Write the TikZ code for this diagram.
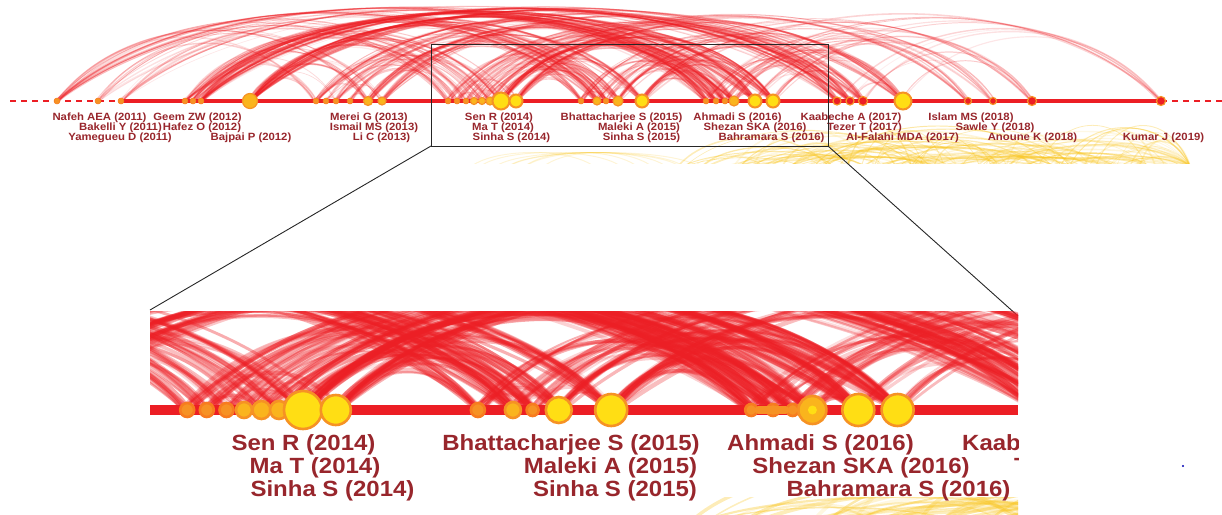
\documentclass[tikz,border=0pt]{standalone}
\usepackage{fontspec}
\setmainfont{Liberation Sans}
\definecolor{arcred}{RGB}{236,30,36}
\definecolor{lblred}{RGB}{152,38,44}
\definecolor{nodeor}{RGB}{246,146,36}
\definecolor{nodeyl}{RGB}{255,222,20}
\definecolor{arcyl}{RGB}{248,196,30}
\tikzset{
 ndS/.style={circle, inner sep=0pt, fill=nodeor, draw=nodeor!85!red, line width=0.5pt},
 ndM/.style={circle, inner sep=0pt, fill=nodeor!55!nodeyl, draw=nodeor, line width=1.2pt},
 ndR/.style={circle, inner sep=0pt, fill=arcred, draw=nodeor, line width=1.2pt},
 ndB/.style={circle, inner sep=0pt, fill=nodeyl, draw=nodeor, line width=2pt},
 lblS/.style={text=lblred, font=\fontsize{10.5}{11}\selectfont\bfseries, xscale=1.08, anchor=base, inner sep=0pt},
 lblL/.style={text=lblred, font=\fontsize{22}{24}\selectfont\bfseries, xscale=1.09, anchor=base, inner sep=0pt},
 zoomline/.style={draw=black!85, line width=0.9pt},
 timeline/.style={draw=arcred, line width=4.5pt},
 dashline/.style={draw=arcred, line width=2.4pt, dash pattern=on 6pt off 5pt},
}
\def\xs{{0,57,98,121,185,193,201,250,316,326,336,350,368,382,448,457,466,474,482,490,501,516,581,597,606,618,642,706,716,725,734,755,773,837,850,863,903,968,993,1032,1161}}
\def\tpool{{1,1,2,3,4,4,5,5,6,6,6,7,7,7,7,7,8,9,10,11,12,12,13,13,14,15,16,17,18,19,20,20,20,20,21,21,21,22,23,24,25,25,26,26,26,27,28,29,30,30,31,31,31,32,32,32,33,34,35,36,36}}
\def\spool{{8,10,12,13,14,15,16,17,18,19,20,21,22,22,23,23,24,24,25,25,26,26,27,27,28,28,29,29,30,30,31,31,31,32,32,32,33,33,34,34,35,35,36,36,37,38,39,40}}
% #1 line width factor, #2 ox, #3 sx, #4 oy, #5 sy, #6 opacity factor
\newcommand\redarcs[6]{%
 \pgfmathsetseed{4242}%
 \foreach \k in {1,...,950}{%
  \pgfmathtruncatemacro\ti{random(0,60)}%
  \pgfmathtruncatemacro\si{random(0,47)}%
  \pgfmathtruncatemacro\ia{\tpool[\ti]}%
  \pgfmathtruncatemacro\ib{\spool[\si]}%
  \pgfmathsetmacro\ja{rnd*5-2.5}%
  \pgfmathsetmacro\jb{rnd*5-2.5}%
  \pgfmathsetmacro\lw{(0.6+1.0*rnd)*#1}%
  \pgfmathsetmacro\op{(0.07+0.2*rnd)*#6}%
  \pgfmathsetmacro\xa{\xs[\ia]+\ja}%
  \pgfmathsetmacro\xb{\xs[\ib]+\jb}%
  \pgfmathsetmacro\dd{\xb-\xa}%
  \pgfmathtruncatemacro\ok{(\ib>\ia)&&(\dd<760)&&((\ib<37)||(\dd<520))}%
  \ifnum\ok=1\relax
   \pgfmathsetmacro\hy{101-133*(1-exp(-\dd/250))}%
   \pgfmathsetmacro\Xa{#2+#3*\xa}%
   \pgfmathsetmacro\Xb{#2+#3*\xb}%
   \pgfmathsetmacro\Ca{#2+#3*(\xa+0.24*\dd)}%
   \pgfmathsetmacro\Cb{#2+#3*(\xb-0.24*\dd)}%
   \pgfmathsetmacro\Yb{#4+#5*101}%
   \pgfmathsetmacro\Yc{#4+#5*\hy}%
   \draw[arcred, line width=\lw pt, opacity=\op] (\Xa,\Yb) .. controls (\Ca,\Yc) and (\Cb,\Yc) .. (\Xb,\Yb);
  \fi}}
\newcommand\yelarcs[5]{%
 \pgfmathsetseed{777}%
 \foreach \k in {1,...,110}{%
  \pgfmathsetmacro\xa{670+rnd*490}%
  \pgfmathsetmacro\dd{40+rnd*260}%
  \pgfmathsetmacro\xb{min(\xa+\dd,1190)}%
  \pgfmathsetmacro\dd{\xb-\xa}%
  \pgfmathsetmacro\r{rnd}%
  \pgfmathsetmacro\hy{166-(8+34*\r*\r)*4/3}%
  \pgfmathsetmacro\lw{(0.6+1.2*rnd)*#1}%
  \pgfmathsetmacro\op{0.12+0.3*rnd}%
  \pgfmathsetmacro\Xa{#2+#3*\xa}%
  \pgfmathsetmacro\Xb{#2+#3*\xb}%
  \pgfmathsetmacro\Ca{#2+#3*(\xa+0.22*\dd)}%
  \pgfmathsetmacro\Cb{#2+#3*(\xb-0.22*\dd)}%
  \pgfmathsetmacro\Yb{#4+#5*166}%
  \pgfmathsetmacro\Yc{#4+#5*\hy}%
  \draw[arcyl, line width=\lw pt, opacity=\op] (\Xa,\Yb) .. controls (\Ca,\Yc) and (\Cb,\Yc) .. (\Xb,\Yb);
 }}
\begin{document}
\begin{tikzpicture}[x=1pt,y=-1pt]
\useasboundingbox (0,0) rectangle (1222,514);
% ---------- top overview: red arcs
\redarcs{1}{0}{1}{0}{1}{1}
% ---------- top overview: yellow arcs
\begin{scope}
 \clip (0,100) rectangle (1222,163);
 \yelarcs{1}{0}{1}{0}{1}
 \pgfmathsetseed{99}
 \foreach \k in {1,...,8}{%
  \pgfmathsetmacro\xa{470+rnd*80}%
  \pgfmathsetmacro\xb{\xa+90+rnd*100}%
  \draw[arcyl, line width=1pt, opacity=0.18] (\xa,166) .. controls ({\xa+25},148) and ({\xb-25},148) .. (\xb,166);
 }
\end{scope}
% ---------- top timeline
\coordinate (tl0) at (10,101);
\coordinate (tl1) at (121,101);
\coordinate (tl2) at (1161,101);
\coordinate (tl3) at (1222,101);
\draw[dashline] (tl0) -- (tl1);
\draw[timeline] (tl1) -- (tl2);
\draw[dashline] (tl2) -- (tl3);
\foreach \x/\t/\s [count=\i] in {57/S/6, 98/S/6, 121/S/6, 185/S/6, 193/S/6, 201/S/6, 250/M/15, 316/S/6, 326/S/6, 336/S/6, 350/S/6, 368/M/9, 382/M/8, 448/S/6, 457/S/6, 466/S/6, 474/M/7, 482/M/7, 490/M/8, 501/B/17, 516/B/13, 581/S/6, 597/M/8, 606/S/6, 618/M/10, 642/B/13, 706/S/6, 716/S/6, 725/S/6, 734/M/10, 755/B/13, 773/B/13, 837/R/8, 850/R/8, 863/R/9, 903/B/17, 968/R/7, 993/R/7, 1032/R/9, 1161/R/9}
 \node[nd\t, minimum size=\s pt] (t\i) at (\x,101) {};
% ---------- top labels
\foreach \x/\y/\txt [count=\i] in {99.5/120/Nafeh AEA (2011), 197.5/120/Geem ZW (2012), 369/120/Merei G (2013), 499/120/Sen R (2014), 621.5/120/Bhattacharjee S (2015), 737.5/120/Ahmadi S (2016), 851/120/Kaabeche A (2017), 971/120/Islam MS (2018),
 120.5/130/Bakelli Y (2011), 202/130/Hafez O (2012), 374/130/Ismail MS (2013), 503/130/Ma T (2014), 639/130/Maleki A (2015), 755/130/Shezan SKA (2016), 864.5/130/Tezer T (2017), 995/130/Sawle Y (2018),
 120/140/Yamegueu D (2011), 251/140/Bajpai P (2012), 381.5/140/Li C (2013), 511.5/140/Sinha S (2014), 641.5/140/Sinha S (2015), 771.5/140/Bahramara S (2016), 902.5/140/Al-Falahi MDA (2017), 1032.5/140/Anoune K (2018), 1163.5/140/Kumar J (2019)}
 \node[lblS] (lt\i) at (\x,\y) {\txt};
% ---------- zoom window
\coordinate (rtl) at (431,44);
\coordinate (rbr) at (828,146);
\coordinate (rbl) at (431,146);
\coordinate (pbl) at (150,310);
\coordinate (pbr) at (1018,316);
\draw[zoomline] (rtl) rectangle (rbr);
\draw[zoomline] (rbl) -- (pbl);
\draw[zoomline] (rbr) -- (pbr);
% ---------- bottom magnified panel
\begin{scope}
 \clip (150,311) rectangle (1018,412);
 \redarcs{2.8}{-792.166}{2.186}{236.28}{1.72}{1.5}
\end{scope}
\begin{scope}
 \clip (150,497) rectangle (1018,514);
 \yelarcs{2.2}{-792.166}{2.186}{236.28}{1.72}
\end{scope}
\coordinate (bl0) at (150,410);
\coordinate (bl1) at (1018,410);
\draw[draw=arcred, line width=10pt] (bl0) -- (bl1);
\foreach \x/\t/\s [count=\i] in {187.2/S/14, 206.8/S/14, 226.5/S/14, 244/M/16, 261.5/M/18, 279/M/18, 303/B/38, 335.8/B/30, 477.9/S/14, 512.9/M/16, 532.6/S/12, 558.8/B/26, 611.2/B/32, 751.2/S/12, 773/S/12, 792.7/S/12, 812.4/M/28, 858.3/B/32, 897.6/B/32}
 \node[nd\t, minimum size=\s pt, line width=2.6pt] (b\i) at (\x,410) {};
\draw[nodeor, line width=8pt, line cap=round] (b14) -- (b16);
\node[ndB, minimum size=9pt, line width=0pt, draw=none] (b20) at (812.4,410) {};
\foreach \x/\y/\txt [count=\i] in {303.5/450/Sen R (2014), 571/450/Bhattacharjee S (2015), 820.5/450/Ahmadi S (2016),
 315/473/Ma T (2014), 610.5/473/Maleki A (2015), 861/473/Shezan SKA (2016),
 332.5/496/Sinha S (2014), 615/496/Sinha S (2015), 898.5/496/Bahramara S (2016)}
 \node[lblL] (lb\i) at (\x,\y) {\txt};
\begin{scope}
 \clip (0,420) rectangle (1018,514);
 \node[lblL, anchor=base west] (lbk) at (962,450) {Kaabeche A (2017)};
 \node[lblL, anchor=base west] (lbt) at (1014,473) {Tezer T (2017)};
\end{scope}
\fill[blue!70!black] (1183,466) circle (1.2pt);
\end{tikzpicture}
\end{document}
